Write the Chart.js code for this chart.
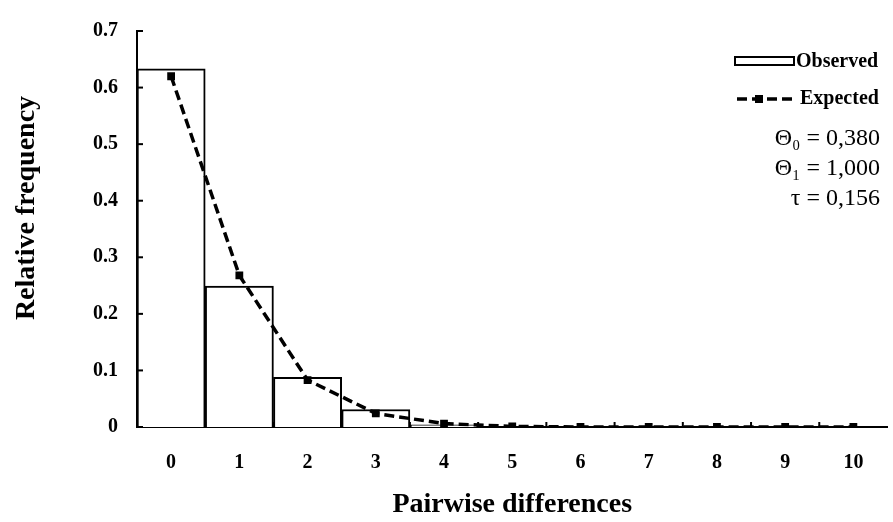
<!DOCTYPE html>
<html>
<head>
<meta charset="utf-8">
<script src="https://cdn.jsdelivr.net/npm/chart.js@4.4.1/dist/chart.umd.min.js"></script>
<style>
  html, body { margin: 0; padding: 0; background: #fff; }
</style>
</head>
<body>
<canvas id="chart" width="893" height="522"></canvas>
<script>
// data
const categories = ['0', '1', '2', '3', '4', '5', '6', '7', '8', '9', '10'];
const observed = [0.633, 0.249, 0.088, 0.031, 0.004, 0, 0, 0, 0, 0, 0];
const expected = [0.620, 0.268, 0.083, 0.024, 0.006, 0.001, 0, 0, 0, 0, 0];
const yTickLabels = ['0', '0.1', '0.2', '0.3', '0.4', '0.5', '0.6', '0.7'];
const legendLabels = ['Observed', 'Expected'];
const paramLines = ['\u0398\u2080 = 0,380', '\u0398\u2081 = 1,000', '\u03C4 = 0,156'];
const yTitle = 'Relative frequency';

const serif = "'Liberation Serif', 'DejaVu Serif', serif";

// inward tick marks, y title, legend and parameter text
const extras = {
    id: 'extras',
    afterDraw(chart) {
        const ctx = chart.ctx;
        const area = chart.chartArea;
        const x = chart.scales.x;
        const y = chart.scales.y;
        ctx.save();
        ctx.strokeStyle = '#000';
        ctx.fillStyle = '#000';
        ctx.lineWidth = 2;

        y.ticks.forEach((t, i) => {
            const py = y.getPixelForTick(i);
            ctx.beginPath();
            ctx.moveTo(area.left, py);
            ctx.lineTo(area.left + 6, py);
            ctx.stroke();
        });
        for (let i = 0; i < categories.length - 1; i++) {
            const px = (x.getPixelForValue(i) + x.getPixelForValue(i + 1)) / 2;
            ctx.beginPath();
            ctx.moveTo(px, area.bottom);
            ctx.lineTo(px, area.bottom - 5);
            ctx.stroke();
        }

        // y axis title, sits a little above the plot centre in the original
        ctx.save();
        ctx.translate(27, 208);
        ctx.rotate(-Math.PI / 2);
        ctx.font = 'bold 28px ' + serif;
        ctx.textAlign = 'center';
        ctx.textBaseline = 'middle';
        ctx.fillText(yTitle, 0, 0);
        ctx.restore();

        // legend
        ctx.fillStyle = '#fff';
        ctx.fillRect(735, 57, 59, 8);
        ctx.strokeRect(735, 57, 59, 8);
        ctx.fillStyle = '#000';
        ctx.font = 'bold 20px ' + serif;
        ctx.textBaseline = 'middle';
        ctx.textAlign = 'left';
        ctx.fillText(legendLabels[0], 796, 62);

        ctx.lineWidth = 3.5;
        ctx.setLineDash([10, 5]);
        ctx.beginPath();
        ctx.moveTo(737, 99);
        ctx.lineTo(792, 99);
        ctx.stroke();
        ctx.setLineDash([]);
        ctx.fillRect(755, 95, 8, 8);
        ctx.fillText(legendLabels[1], 800, 99);

        ctx.font = '24px ' + serif;
        ctx.textAlign = 'right';
        const ly = [139, 169, 199];
        paramLines.forEach((s, i) => ctx.fillText(s, 880, ly[i]));
        ctx.restore();
    }
};

new Chart(document.getElementById('chart'), {
    data: {
        labels: categories,
        datasets: [
            {
                type: 'line',
                label: legendLabels[1],
                data: expected,
                borderColor: '#000',
                borderWidth: 3.5,
                borderDash: [10, 5],
                pointStyle: 'rect',
                pointRadius: 5.5,
                pointBackgroundColor: '#000',
                pointBorderWidth: 0,
                tension: 0,
                order: 0
            },
            {
                type: 'bar',
                label: legendLabels[0],
                data: observed,
                backgroundColor: '#fff',
                borderColor: '#000',
                borderWidth: 2,
                barPercentage: 1,
                categoryPercentage: 1,
                order: 1
            }
        ]
    },
    options: {
        responsive: false,
        animation: false,
        devicePixelRatio: 1,
        layout: { padding: { top: 18, left: 0, right: 0, bottom: 0 } },
        plugins: { legend: { display: false }, tooltip: { enabled: false } },
        scales: {
            x: {
                type: 'category',
                offset: true,
                grid: { display: false, drawTicks: false },
                border: { display: true, color: '#000', width: 2 },
                ticks: {
                    color: '#000',
                    padding: 24,
                    maxRotation: 0,
                    font: { family: serif, size: 20, weight: 'bold' }
                },
                title: {
                    display: true,
                    text: 'Pairwise differences',
                    color: '#000',
                    padding: { top: 0, bottom: 0 },
                    font: { family: serif, size: 28, weight: 'bold' }
                },
                afterFit(scale) { scale.height = 95; }
            },
            y: {
                min: 0,
                max: 0.7,
                grid: { display: false, drawTicks: false },
                border: { display: true, color: '#000', width: 2 },
                ticks: {
                    stepSize: 0.1,
                    color: '#000',
                    padding: 19,
                    font: { family: serif, size: 20, weight: 'bold' },
                    callback: (v, i) => yTickLabels[i]
                },
                afterFit(scale) { scale.width = 137; }
            }
        }
    },
    plugins: [extras]
});
</script>
</body>
</html>
